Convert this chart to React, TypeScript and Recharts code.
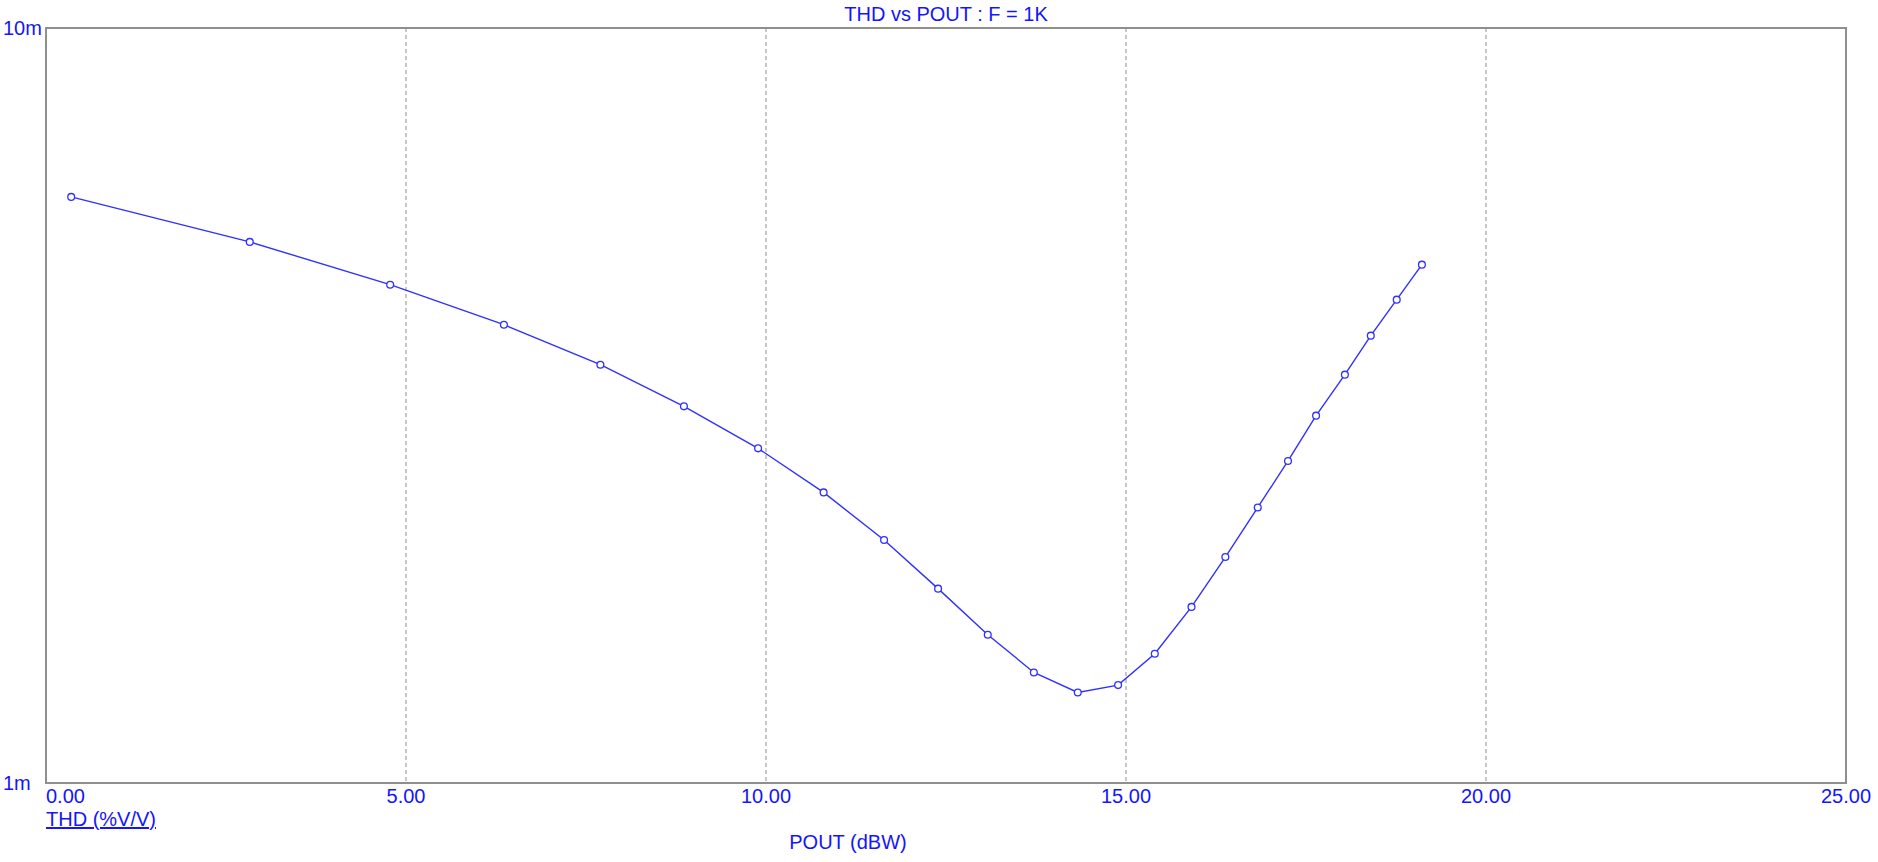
import { LineChart, Line, XAxis, YAxis, CartesianGrid, ReferenceArea } from 'recharts';

// POUT (dBW) and THD (fraction, shown as m)
const pout = [
  0.35, 2.83, 4.78, 6.36, 7.70, 8.86, 9.89, 10.80, 11.64, 12.39, 13.08, 13.72,
  14.33, 14.89, 15.40, 15.91, 16.38, 16.83, 17.25, 17.64, 18.04, 18.40, 18.76, 19.11,
];
const thd = [
  0.005974, 0.005208, 0.004571, 0.004046, 0.003581, 0.003154, 0.002775, 0.002426,
  0.002098, 0.001809, 0.001572, 0.001401, 0.001318, 0.001348, 0.001483, 0.001711,
  0.001992, 0.002317, 0.002670, 0.003066, 0.003474, 0.003913, 0.004367, 0.004859,
];
const xTicks = [0, 5, 10, 15, 20, 25];
const yTicks = [0.001, 0.01];
const yTickLabels = ['1m', '10m'];

const data = pout.map((p, i) => ({ pout: p, thd: thd[i] }));

const BLUE = '#1414ff';
const LINE = '#3030ff';
const GRID = '#8f8f8f';
const FONT = '"Liberation Sans", Arial, sans-serif';

// eslint-disable-next-line @typescript-eslint/no-explicit-any
function XTick({ x, y, payload, index }: any) {
  return (
    <text x={x} y={y + 20} textAnchor={index === 0 ? 'start' : 'middle'}
      fill={BLUE} fontSize={20} fontFamily={FONT}>
      {Number(payload.value).toFixed(2)}
    </text>
  );
}

// eslint-disable-next-line @typescript-eslint/no-explicit-any
function YTick({ y, payload }: any) {
  const i = yTicks.indexOf(payload.value);
  return (
    <text x={3} y={y} dy="0.36em" textAnchor="start"
      fill={BLUE} fontSize={20} fontFamily={FONT}>
      {yTickLabels[i]}
    </text>
  );
}

// eslint-disable-next-line @typescript-eslint/no-explicit-any
function Marker({ cx, cy }: any) {
  return <circle cx={cx} cy={cy} r={3.4} fill="#fff" stroke={LINE} strokeWidth={1.3} />;
}

export default function App() {
  return (
    <div style={{ position: 'absolute', left: 0, top: 0, width: 1878, height: 862, background: '#fff', fontFamily: FONT }}>
      <div style={{ position: 'absolute', left: 0, width: 1892, top: 3, textAlign: 'center', color: BLUE, fontSize: 20 }}>
        THD vs POUT : F = 1K
      </div>
      <LineChart width={1878} height={862} data={data}
        margin={{ top: 28, right: 32, left: 0, bottom: 0 }}>
        <CartesianGrid horizontal={false} stroke={GRID} strokeDasharray="4 3" />
        <XAxis dataKey="pout" type="number" domain={[0, 25]} ticks={xTicks}
          height={79} axisLine={false} tickLine={false} tickSize={0} tickMargin={0}
          tick={<XTick />} interval={0}
          label={{ value: 'POUT (dBW)', position: 'insideBottom', dx: -98, dy: -8, fill: BLUE, fontSize: 20, fontFamily: FONT }} />
        <YAxis dataKey="thd" scale="log" domain={[0.001, 0.01]} ticks={yTicks}
          allowDataOverflow width={46} axisLine={false} tickLine={false}
          tick={<YTick />} interval={0} />
        <ReferenceArea x1={0} x2={25} y1={0.001} y2={0.01} fill="none" stroke={GRID} strokeWidth={2} />
        <Line type="linear" dataKey="thd" stroke={LINE} strokeWidth={1.4}
          dot={<Marker />} activeDot={false} isAnimationActive={false} />
      </LineChart>
      <div style={{ position: 'absolute', left: 46, top: 808, color: BLUE, fontSize: 20, textDecoration: 'underline' }}>
        THD (%V/V)
      </div>
    </div>
  );
}
